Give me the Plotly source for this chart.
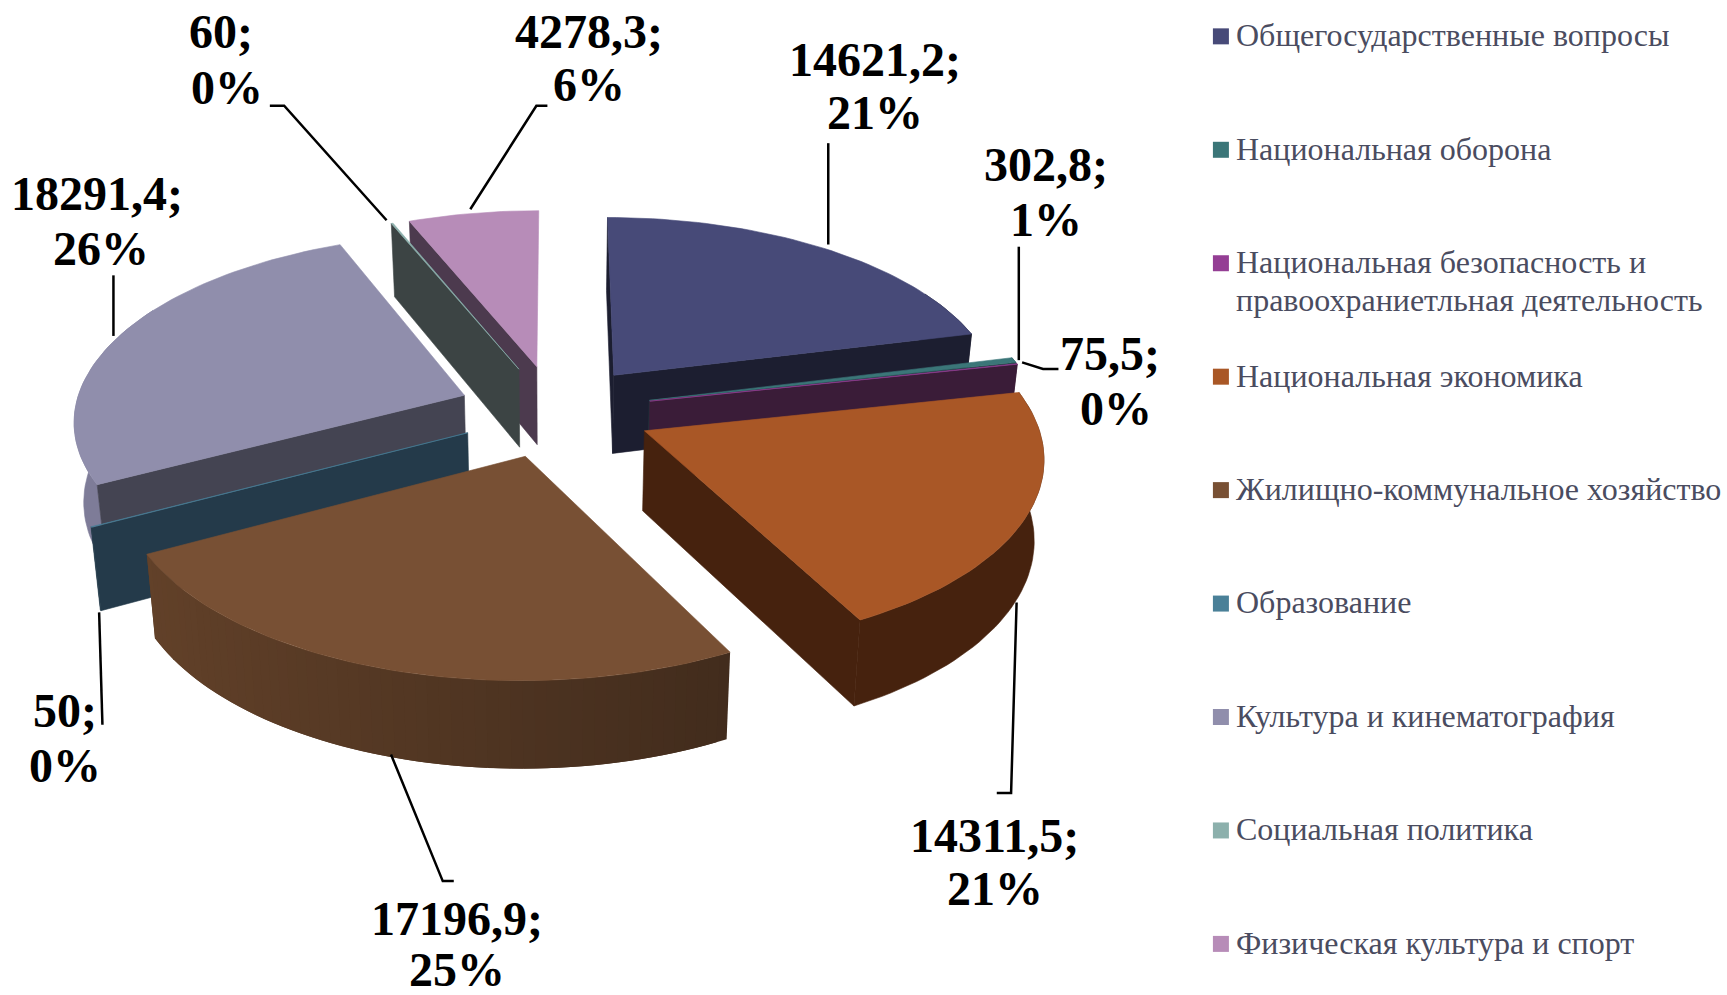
import math
import plotly.graph_objects as go

# ---- data ----
categories = ["Общегосударственные вопросы", "Национальная оборона",
              "Национальная безопасность и<br>правоохраниетльная деятельность",
              "Национальная экономика", "Жилищно-коммунальное хозяйство",
              "Образование", "Культура и кинематография",
              "Социальная политика", "Физическая культура и спорт"]
values = [14621.2, 302.8, 75.5, 14311.5, 17196.9, 50, 18291.4, 60, 4278.3]
value_labels = ["14621,2;", "302,8;", "75,5;", "14311,5;", "17196,9;", "50;", "18291,4;", "60;", "4278,3;"]
percent_labels = ["21%", "1%", "0%", "21%", "25%", "0%", "26%", "0%", "6%"]

# ---- styles ----
top_colors = ["#474A78", "#3B7678", "#943E94", "#A95726", "#785034", "#4A8098", "#908EAC", "#8CB0AC", "#B78CB8"]
wall_colors = ["#1C1E30", "#1E3C3E", "#3A1C38", "#46220E", "#2E2014", "#243A4A", "#444452", "#3C4444", "#4C3A4E"]
arc_left = ["#1C1E30", "#1E3C3E", "#3A1C38", "#46220E", "#6A462C", "#243A4A", "#7E7C98", "#3C4444", "#4C3A4E"]
arc_right = ["#1C1E30", "#1E3C3E", "#3A1C38", "#46220E", "#2C1E14", "#243A4A", "#7E7C98", "#3C4444", "#4C3A4E"]
draw_order = [8, 0, 1, 2, 7, 6, 5, 3, 4]

S = 1727 / 1568  # reference sketch units to page pixels
CX, CY = 504, 373
A, B, P, EXPLODE, DEPTH = 354, 168, 0.1216, 0.25, 72

label_pos = [((794, 54), (794, 102)), ((950, 149), (950, 199)), ((1008, 321), (1013, 371)),
             ((903, 759), (903, 807)), ((415, 834), (415, 880)), ((59, 645), (59, 695)),
             ((88, 176), (92, 226)), ((201, 29), (206, 79)), ((535, 29), (535, 77))]
leaders = [[(752, 130), (752, 222)], [(925, 224), (925, 327)],
           [(928, 329), (947, 335), (961, 335)], [(923, 547), (918, 720), (905, 720)],
           [(355, 685), (402, 800), (412, 800)], [(90, 556), (93, 658)], [(103, 250), (103, 305)],
           [(245, 96), (258, 96), (351, 200)], [(427, 190), (487, 96), (497, 96)]]
legend_rows = [32, 135, 238, 341, 444, 547, 650, 753, 856]
legend_line_step = 34


def project(X, Y, low=False):
    w = 1 + P * Y
    sx, sy = A * X / w, -B * Y / w
    if low:
        return (CX + sx * 0.98) * S, (CY + sy * 0.98 + DEPTH / w) * S
    return (CX + sx) * S, (CY + sy) * S


def unit(deg):
    return math.sin(math.radians(deg)), math.cos(math.radians(deg))


def mix(c1, c2, t):
    a = [int(c1[i:i + 2], 16) for i in (1, 3, 5)]
    b = [int(c2[i:i + 2], 16) for i in (1, 3, 5)]
    return "rgb(%d,%d,%d)" % tuple(round(p + (q - p) * t) for p, q in zip(a, b))


def poly(fig, pts, color, lw=0.6):
    xs = [p[0] for p in pts] + [pts[0][0]]
    ys = [p[1] for p in pts] + [pts[0][1]]
    fig.add_trace(go.Scatter(x=xs, y=ys, mode="lines", fill="toself", fillcolor=color,
                             line=dict(color=color, width=lw), hoverinfo="skip", showlegend=False))


fig = go.Figure()
total = sum(values)
edges = [0]
for v in values:
    edges.append(edges[-1] + v / total * 360)

for i in draw_order:
    a0, a1 = edges[i], edges[i + 1]
    ox, oy = unit((a0 + a1) / 2)
    ox, oy = ox * EXPLODE, oy * EXPLODE
    n = max(2, int((a1 - a0) / 1.5))
    angles = [a0 + (a1 - a0) * k / n for k in range(n + 1)]
    rim = [(ox + unit(t)[0], oy + unit(t)[1]) for t in angles]
    # outer wall, only on the part of the rim that can face the viewer
    front = [(ox + unit(t)[0], oy + unit(t)[1]) for t in angles if unit(t)[1] < 0.5]
    if len(front) >= 2:
        if arc_left[i] == arc_right[i]:
            poly(fig, [project(*p) for p in front] + [project(*p, True) for p in reversed(front)], arc_left[i])
        else:
            m = len(front) - 1
            for k in range(m):
                part = front[k:min(k + 3, m + 1)]
                t = ((front[k][0] + front[k + 1][0]) / 2 + 1.3) / 2.6
                poly(fig, [project(*p) for p in part] + [project(*p, True) for p in reversed(part)],
                     mix(arc_left[i], arc_right[i], t), lw=0)
    # radial walls that face the viewer
    if math.sin(math.radians(a0)) <= 0.001:
        poly(fig, [project(ox, oy), project(*rim[0]), project(*rim[0], True), project(ox, oy, True)], wall_colors[i])
    if math.sin(math.radians(a1)) > 0:
        poly(fig, [project(ox, oy), project(*rim[-1]), project(*rim[-1], True), project(ox, oy, True)], wall_colors[i])
    poly(fig, [project(ox, oy)] + [project(*p) for p in rim], top_colors[i])

for path in leaders:
    fig.add_trace(go.Scatter(x=[p[0] * S for p in path], y=[p[1] * S for p in path], mode="lines",
                             line=dict(color="black", width=2.5), hoverinfo="skip", showlegend=False))

fig.add_trace(go.Scatter(x=[1108.5 * S] * len(categories), y=[(r + 1) * S for r in legend_rows], mode="markers",
                         marker=dict(symbol="square", size=16, color=top_colors), hoverinfo="skip", showlegend=False))

annotations = []
for i, name in enumerate(categories):
    for j, line in enumerate(name.split("<br>")):
        annotations.append(dict(x=1120 * S, y=(legend_rows[i] + j * legend_line_step) * S, text=line,
                                xanchor="left", yanchor="middle", align="left", showarrow=False,
                                font=dict(family="Liberation Serif", size=32, color="#4A4C60")))
    for (px, py), txt in zip(label_pos[i], (value_labels[i], percent_labels[i])):
        annotations.append(dict(x=px * S, y=py * S, text="<b>%s</b>" % txt, xanchor="center", yanchor="middle",
                                showarrow=False, font=dict(family="Liberation Serif", size=48, color="black")))

fig.update_layout(width=1727, height=995, margin=dict(l=0, r=0, t=0, b=0),
                  paper_bgcolor="white", plot_bgcolor="white", showlegend=False,
                  xaxis=dict(range=[0, 1727], visible=False, fixedrange=True),
                  yaxis=dict(range=[995, 0], visible=False, fixedrange=True),
                  annotations=annotations)
fig.write_html("out.html", config={"displayModeBar": False},
               post_script="document.body.style.margin='0';document.body.style.overflow='hidden';")
